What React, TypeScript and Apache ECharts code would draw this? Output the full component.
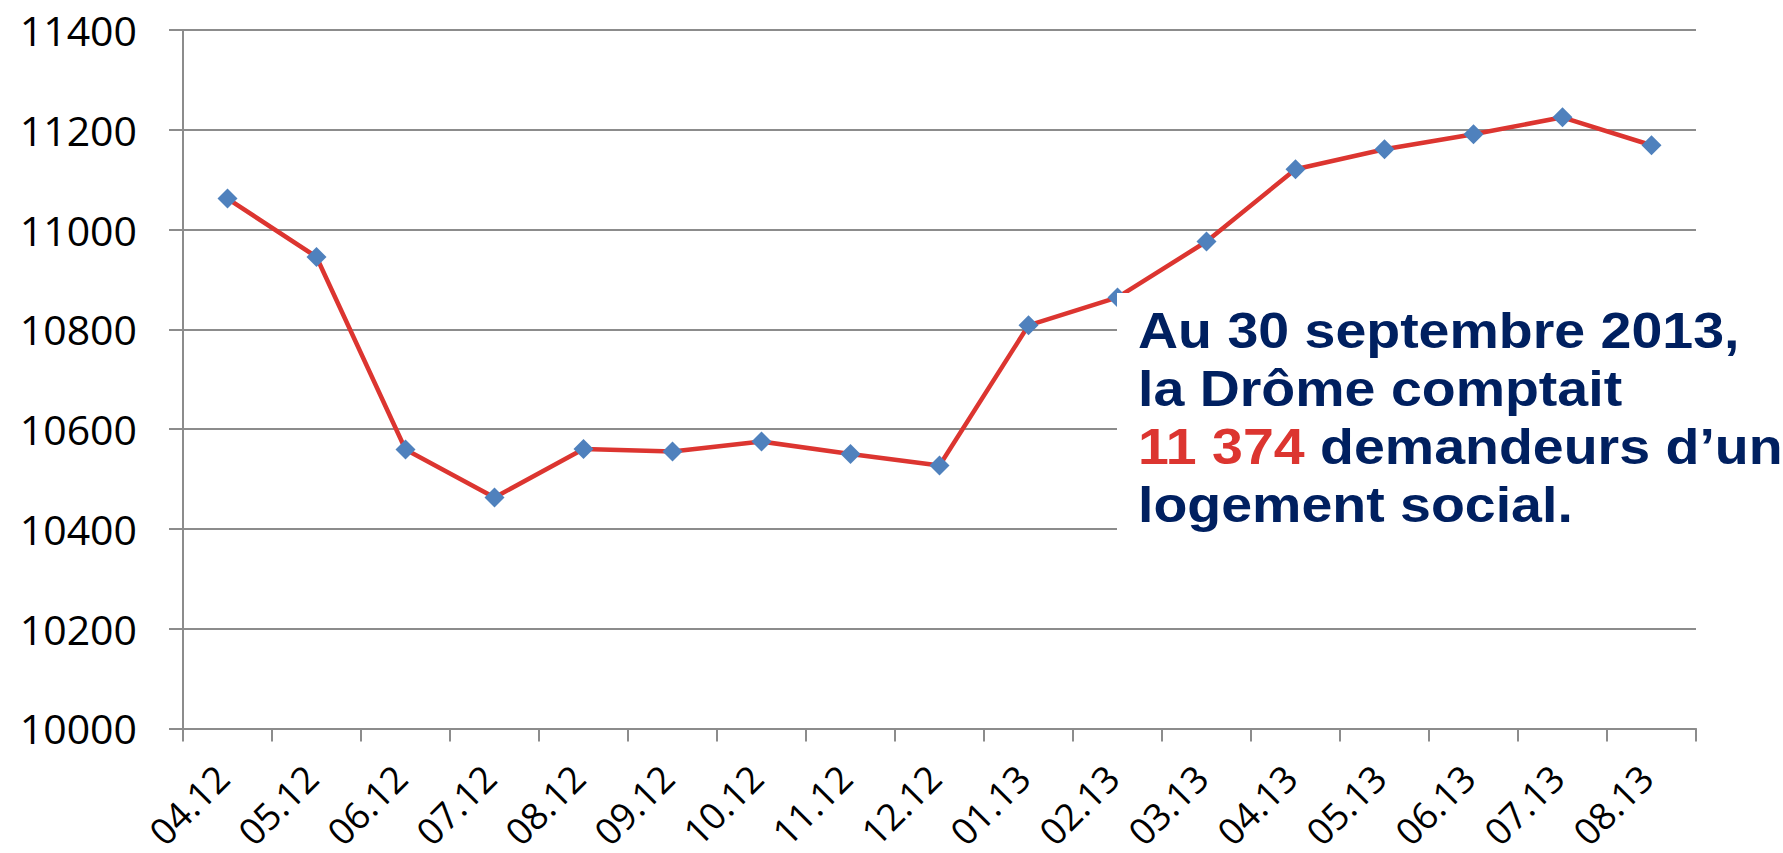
import React, { useEffect, useRef } from "react";
import * as echarts from "echarts";

const categories = ["04.12", "05.12", "06.12", "07.12", "08.12", "09.12", "10.12", "11.12", "12.12", "01.13", "02.13", "03.13", "04.13", "05.13", "06.13", "07.13", "08.13"];
const values = [11062, 10945, 10559, 10463, 10560, 10555, 10575, 10550, 10527, 10808, 10864, 10976, 11121, 11161, 11191, 11225, 11169];
const yTicks = { min: 10000, max: 11400, interval: 200 };
const noteLines = ["Au 30 septembre 2013,", "la Drôme comptait", "11 374", " demandeurs d’un", "logement social."];

const NAVY = "#002060";
const RED = "#DC3530";
const GRID = "#8C8C8C";

export default function App() {
  const ref = useRef<HTMLDivElement>(null);
  useEffect(() => {
    if (!ref.current) return;
    const chart = echarts.init(ref.current, null, { renderer: "svg" });
    const noteFont = { fontFamily: "Liberation Sans", fontWeight: "bold", fontSize: 50 };
    const sx = 1.11;
    chart.setOption({
      animation: false,
      backgroundColor: "#ffffff",
      grid: { left: 183, right: 87, top: 30, bottom: 120, containLabel: false },
      xAxis: {
        type: "category",
        data: categories,
        boundaryGap: true,
        axisLine: { show: true, lineStyle: { color: GRID, width: 2 } },
        axisTick: { show: true, length: 13, alignWithLabel: false, lineStyle: { color: GRID, width: 2 } },
        axisLabel: { rotate: 45, margin: 37, padding: [0, 8, 0, 0], fontSize: 37, fontFamily: "Open Sans", color: "#000", interval: 0 },
        splitLine: { show: false },
      },
      yAxis: {
        type: "value",
        min: yTicks.min,
        max: yTicks.max,
        interval: yTicks.interval,
        axisLine: { show: true, lineStyle: { color: GRID, width: 2 } },
        axisTick: { show: true, length: 14, lineStyle: { color: GRID, width: 2 } },
        axisLabel: { margin: 46, fontSize: 41, fontFamily: "Open Sans", color: "#000", formatter: (v: number) => String(v) },
        splitLine: { show: true, lineStyle: { color: GRID, width: 2 } },
      },
      series: [
        {
          type: "line",
          data: values,
          symbol: "diamond",
          symbolSize: 20,
          itemStyle: { color: "#4F81BD" },
          lineStyle: { color: RED, width: 4.5 },
          z: 3,
        },
      ],
      graphic: [
        { type: "rect", z: 100, shape: { x: 1117, y: 293, width: 666, height: 262 }, style: { fill: "#ffffff" } },
        { type: "text", z: 101, x: 1138, y: 330, scaleX: sx, style: { text: noteLines[0], fill: NAVY, verticalAlign: "middle", ...noteFont } },
        { type: "text", z: 101, x: 1138, y: 388, scaleX: sx, style: { text: noteLines[1], fill: NAVY, verticalAlign: "middle", ...noteFont } },
        {
          type: "text", z: 101, x: 1138, y: 446, scaleX: sx,
          style: {
            text: "{r|" + noteLines[2] + "}{n|" + noteLines[3] + "}",
            verticalAlign: "middle",
            ...noteFont,
            rich: {
              r: { fill: RED, ...noteFont },
              n: { fill: NAVY, ...noteFont },
            },
          },
        },
        { type: "text", z: 101, x: 1138, y: 504, scaleX: sx, style: { text: noteLines[4], fill: NAVY, verticalAlign: "middle", ...noteFont } },
      ],
    });
    return () => chart.dispose();
  }, []);
  return <div ref={ref} style={{ position: "fixed", left: 0, top: 0, width: 1783, height: 853 }} />;
}
